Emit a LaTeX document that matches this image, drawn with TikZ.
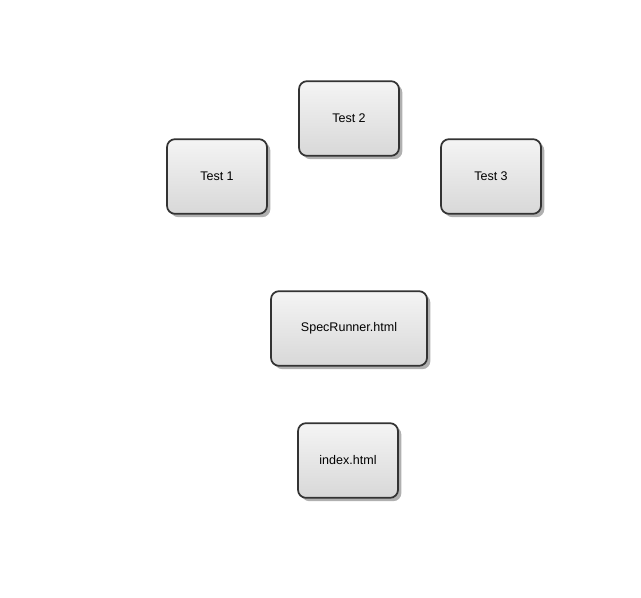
\documentclass[tikz,border=0pt]{standalone}
\usepackage{fontspec}
\setmainfont{Liberation Sans}
\usetikzlibrary{shadows}
\definecolor{boxtop}{HTML}{F4F4F4}
\definecolor{boxbot}{HTML}{D8D8D8}
\definecolor{boxline}{HTML}{333333}
\definecolor{shade}{HTML}{B0B0B0}
\begin{document}
\begin{tikzpicture}[x=0.75pt,y=-0.75pt,
  box/.style={draw=boxline, line width=1.3pt, rounded corners=6pt,
    top color=boxtop, bottom color=boxbot,
    drop shadow={shadow xshift=2.5pt, shadow yshift=-2.5pt, fill=shade, opacity=1},
    font=\fontsize{9.4}{11}\selectfont, text=black, inner sep=0pt}]
\useasboundingbox (0,0) rectangle (641,598);
\node[box, minimum width=75pt, minimum height=56pt] (t2) at (349,118.5) {Test 2};
\node[box, minimum width=75pt, minimum height=56pt] (t1) at (217,176.5) {Test 1};
\node[box, minimum width=75pt, minimum height=56pt] (t3) at (491,176.5) {Test 3};
\node[box, minimum width=117pt, minimum height=56pt] (sr) at (349,328.5) {SpecRunner.html};
\node[box, minimum width=75pt, minimum height=56pt] (ix) at (348,460.5) {index.html};
\end{tikzpicture}
\end{document}
